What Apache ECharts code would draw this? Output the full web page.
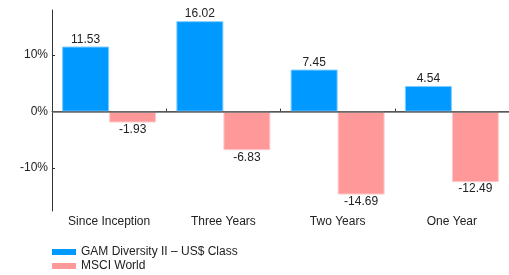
<!DOCTYPE html>
<html>
<head>
<meta charset="utf-8">
<script src="https://cdn.jsdelivr.net/npm/echarts@6/dist/echarts.min.js"></script>
<style>
  html, body { margin: 0; padding: 0; background: #fff; }
  #main { width: 509px; height: 275px; }
</style>
</head>
<body>
<div id="main"></div>
<script>
const categories = ["Since Inception", "Three Years", "Two Years", "One Year"];
const gamValues = [11.53, 16.02, 7.45, 4.54];
const msciValues = [-1.93, -6.83, -14.69, -12.49];
const seriesNames = ["GAM Diversity II \u2013 US$ Class", "MSCI World"];

const font = "Liberation Sans, Arial, sans-serif";
const myChart = echarts.init(document.getElementById("main"));

const options = {
  animation: false,
  backgroundColor: "#fff",
  textStyle: { fontFamily: font },
  grid: { left: 52, top: 10, width: 466, height: 201 },
  legend: {
    orient: "vertical",
    left: 52,
    top: 245,
    height: 30,
    padding: 0,
    itemWidth: 24,
    itemHeight: 6,
    itemGap: 0,
    icon: "rect",
    itemStyle: { borderWidth: 0 },
    textStyle: { fontFamily: font, fontSize: 12, color: "#222", lineHeight: 14 },
    data: seriesNames,
  },
  xAxis: {
    type: "category",
    data: categories,
    axisLine: { lineStyle: { color: "#333", width: 1 } },
    axisTick: { show: true, inside: true, length: 3, lineStyle: { color: "#333" } },
    axisLabel: { fontFamily: font, fontSize: 12, color: "#222", margin: 5, interval: 0 },
  },
  yAxis: {
    type: "value",
    min: -17.6,
    max: 18,
    splitNumber: 3,
    axisLine: { show: true, lineStyle: { color: "#333", width: 1 } },
    axisTick: { show: true, inside: true, length: 3, lineStyle: { color: "#333" } },
    splitLine: { show: false },
    axisLabel: {
      fontFamily: font,
      fontSize: 12,
      color: "#222",
      margin: 4,
      showMinLabel: false,
      showMaxLabel: false,
      formatter: (v) => Math.round(v) + "%",
    },
  },
  series: [
    {
      name: seriesNames[0],
      type: "bar",
      data: gamValues,
      barWidth: 47,
      barGap: "0%",
      itemStyle: { color: "#0099ff", borderColor: "#7fccff", borderWidth: 1 },
      label: {
        show: true,
        position: "top",
        distance: 1,
        fontFamily: font,
        fontSize: 12,
        color: "#222",
        formatter: (p) => p.value.toFixed(2),
      },
      markLine: {
        silent: true,
        symbol: "none",
        label: { show: false },
        lineStyle: { color: "#666", width: 1.5, type: "solid" },
        data: [{ yAxis: 0 }],
      },
    },
    {
      name: seriesNames[1],
      type: "bar",
      data: msciValues,
      barWidth: 47,
      barGap: "0%",
      itemStyle: { color: "#ff9999", borderColor: "#ffcccc", borderWidth: 1 },
      label: {
        show: true,
        position: "bottom",
        distance: 1,
        fontFamily: font,
        fontSize: 12,
        color: "#222",
        formatter: (p) => p.value.toFixed(2),
      },
    },
  ],
};

myChart.setOption(options);
</script>
</body>
</html>
